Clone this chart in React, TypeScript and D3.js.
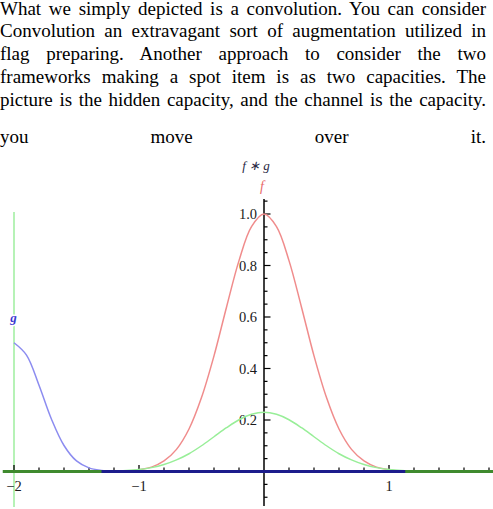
import React from "react";
import * as d3 from "d3";

// Paragraph lines (justified)
const textLines = [
  "What we simply depicted is a convolution. You can consider",
  "Convolution an extravagant sort of augmentation utilized in",
  "flag preparing. Another approach to consider the two",
  "frameworks making a spot item is as two capacities. The",
  "picture is the hidden capacity, and the channel is the capacity.",
  "you move over it.",
];
const textBaselines = [15, 37.8, 60.8, 83.8, 106.8, 143];

// f (red)
const fX = [-1.1, -1.0, -0.9, -0.8, -0.7, -0.6, -0.5, -0.4, -0.3, -0.2, -0.1, 0, 0.1, 0.2, 0.3, 0.4, 0.5, 0.6, 0.7, 0.8, 0.9, 1.0, 1.1];
const fY = [0.0, 0.007, 0.017, 0.041, 0.086, 0.165, 0.287, 0.449, 0.638, 0.819, 0.951, 1.0, 0.951, 0.819, 0.638, 0.449, 0.287, 0.165, 0.086, 0.041, 0.017, 0.007, 0.0];

// g (blue)
const gX = [-2.0, -1.9, -1.8, -1.7, -1.6, -1.5, -1.4, -1.3, -1.2];
const gY = [0.5, 0.452, 0.335, 0.203, 0.101, 0.041, 0.014, 0.004, 0.0];

// f*g (green)
const cX = [-1.3, -1.2, -1.1, -1.0, -0.9, -0.8, -0.7, -0.6, -0.5, -0.4, -0.3, -0.2, -0.1, 0, 0.1, 0.2, 0.3, 0.4, 0.5, 0.6, 0.7, 0.8, 0.9, 1.0, 1.1, 1.2, 1.3];
const cY = [0.0, 0.002, 0.004, 0.008, 0.015, 0.027, 0.045, 0.069, 0.1, 0.135, 0.17, 0.201, 0.222, 0.23, 0.222, 0.201, 0.17, 0.135, 0.1, 0.069, 0.045, 0.027, 0.015, 0.008, 0.004, 0.002, 0.0];

// dark-green stretches of the axis (where f*g lies on zero)
const axisGreenRanges: [number, number][] = [[-2.09, -1.3], [1.13, 1.84]];

const xMajorTicks = [-2, -1, 1];
const xMajorLabels = ["\u22122", "\u22121", "1"];
const yMajorTicks = [0.2, 0.4, 0.6, 0.8, 1.0];
const yMajorLabels = ["0.2", "0.4", "0.6", "0.8", "1.0"];

const W = 493;
const H = 509;

export default function App() {
  const x = d3.scaleLinear().domain([-2, 1]).range([14, 389]);
  const y = d3.scaleLinear().domain([0, 1]).range([471.5, 214]);

  const line = d3
    .line<[number, number]>()
    .x((d) => x(d[0]))
    .y((d) => y(d[1]))
    .curve(d3.curveCatmullRom.alpha(0.5));

  const fPts = fX.map((v, i) => [v, fY[i]] as [number, number]);
  const gPts = gX.map((v, i) => [v, gY[i]] as [number, number]);
  const cPts = cX.map((v, i) => [v, cY[i]] as [number, number]);

  const xMinor = d3.range(-2.0, 1.85, 0.2).map((v) => Math.round(v * 10) / 10).filter((v) => Math.abs(v) > 1e-6 && !xMajorTicks.includes(v));
  const yMinor = d3.range(-0.1, 1.06, 0.05).map((v) => Math.round(v * 100) / 100).filter((v) => Math.abs(v) > 1e-6 && !yMajorTicks.some((m) => Math.abs(m - v) < 1e-6));

  const serif = "'Liberation Serif', 'Times New Roman', serif";

  return (
    <div style={{ position: "absolute", left: 0, top: 0, width: W, height: H, background: "#fff", overflow: "hidden" }}>
      <svg width={W} height={H} style={{ position: "absolute", left: 0, top: 0 }}>
        {/* green vertical line at x = -2 */}
        <line x1={x(-2)} x2={x(-2)} y1={212} y2={507} stroke="#b6f2b6" strokeWidth={2} />

        {/* y axis */}
        <line x1={x(0)} x2={x(0)} y1={199} y2={506} stroke="#000" strokeWidth={1.5} />
        {yMinor.map((v) => (
          <line key={"ym" + v} x1={x(0)} x2={x(0) + 3.5} y1={y(v)} y2={y(v)} stroke="#000" strokeWidth={1.2} />
        ))}
        {yMajorTicks.map((v, i) => (
          <g key={"yM" + v}>
            <line x1={x(0)} x2={x(0) + 6.5} y1={y(v)} y2={y(v)} stroke="#000" strokeWidth={1.2} />
            <text x={x(0) - 7} y={y(v) + 5} textAnchor="end" fontFamily={serif} fontSize={14.5} fill="#1a1a1a">
              {yMajorLabels[i]}
            </text>
          </g>
        ))}

        {/* x ticks */}
        {xMinor.map((v) => (
          <line key={"xm" + v} x1={x(v)} x2={x(v)} y1={471.5} y2={467.5} stroke="#000" strokeWidth={1.2} />
        ))}
        {xMajorTicks.map((v, i) => (
          <g key={"xM" + v}>
            <line x1={x(v)} x2={x(v)} y1={471.5} y2={465} stroke="#000" strokeWidth={1.3} />
            <text x={x(v)} y={490.5} textAnchor="middle" fontFamily={serif} fontSize={14.5} fill="#1a1a1a">
              {xMajorLabels[i]}
            </text>
          </g>
        ))}

        {/* curves */}
        <path d={line(fPts) || ""} fill="none" stroke="#f08c8c" strokeWidth={1.5} />
        <path d={line(cPts) || ""} fill="none" stroke="#98ee98" strokeWidth={1.5} />
        <path d={line(gPts) || ""} fill="none" stroke="#8c8cf0" strokeWidth={1.5} />

        {/* x axis */}
        <line x1={3} x2={W} y1={471.5} y2={471.5} stroke="#1c1c8c" strokeWidth={3} />
        {axisGreenRanges.map((r, i) => (
          <line key={"ag" + i} x1={x(r[0])} x2={x(r[1])} y1={471.5} y2={471.5} stroke="#3f8a2e" strokeWidth={3} />
        ))}

        {/* labels */}
        <text x={256} y={170} textAnchor="middle" fontFamily={serif} fontStyle="italic" fontSize={13} fill="#2a2a44">
          f ∗ g
        </text>
        <text x={262} y={191} textAnchor="middle" fontFamily={serif} fontStyle="italic" fontSize={14} fill="#e86a6a">
          f
        </text>
        <text x={13.5} y={322} textAnchor="middle" fontFamily={serif} fontStyle="italic" fontWeight="bold" fontSize={13} fill="#3a3ad0" stroke="#fff" strokeWidth={3} paintOrder="stroke">
          g
        </text>
      </svg>

      {textLines.map((t, i) => (
        <div
          key={i}
          style={{
            position: "absolute",
            left: 0,
            top: textBaselines[i] - 15.4,
            width: 486,
            fontFamily: serif,
            fontSize: 19,
            lineHeight: "18px",
            wordSpacing: "-2.2px",
            color: "#000",
            textAlign: "justify",
            textAlignLast: "justify",
            whiteSpace: "nowrap",
          }}
        >
          {t}
        </div>
      ))}
    </div>
  );
}
